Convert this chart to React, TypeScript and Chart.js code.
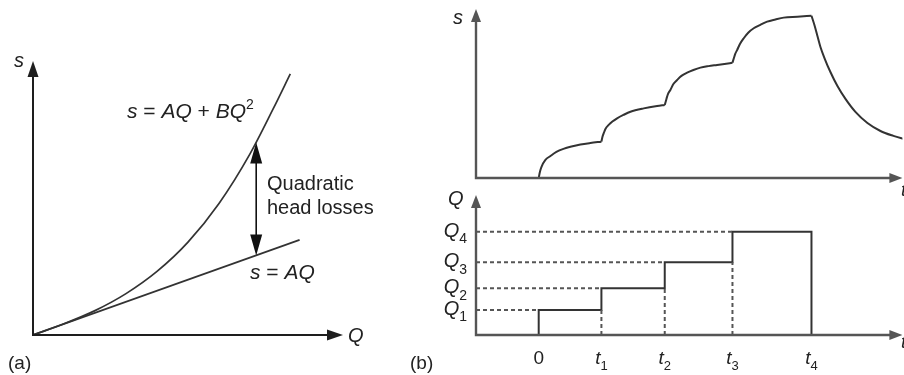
import React, { useEffect, useRef } from 'react';
import { Chart, registerables } from 'chart.js';

Chart.register(...registerables);

// ---------- Panel (a): drawdown versus pumping rate ----------
const flowQ = [0, 1, 2, 3, 4, 5, 6, 7, 7.75, 8.3];
const drawdownTotal = [0, 0.41, 0.89, 1.51, 2.32, 3.39, 4.8, 6.61, 8.26, 9.53];
const flowLinear = [0, 8.6];
const drawdownLinear = [0, 3.47];
// position of the "quadratic head losses" double arrow
const lossQ = 7.2;
const lossTop = 7.03;
const lossBottom = 2.9;

// ---------- Panel (b): step-drawdown test ----------
const stepTimes = [0, 1, 2.01, 3.09, 4.35]; // 0, t1, t2, t3, t4
const stepTimeLabels = ['0', '1', '2', '3', '4'];
const stepRates = [1.79, 3.34, 5.19, 7.38]; // Q1..Q4
const stepRateLabels = ['1', '2', '3', '4'];

const responseT = [
  0, 0.019, 0.043, 0.107, 0.187, 0.282, 0.394, 0.522, 0.665, 0.824, 1.0,
  1.016, 1.037, 1.064, 1.116, 1.175, 1.25, 1.351, 1.463, 1.675, 1.888, 2.01,
  2.037, 2.061, 2.1, 2.148, 2.207, 2.276, 2.367, 2.467, 2.579, 2.707, 2.845, 2.962, 3.09,
  3.113, 3.134, 3.164, 3.209, 3.27, 3.345, 3.429, 3.528, 3.643, 3.775, 3.907, 4.126, 4.35,
  4.397, 4.445, 4.493, 4.557, 4.652, 4.764, 4.892, 5.051, 5.242, 5.45, 5.657, 5.85,
];
const responseS = [
  0, 0.36, 0.65, 1.07, 1.3, 1.54, 1.72, 1.86, 1.98, 2.07, 2.15,
  2.43, 2.65, 2.9, 3.14, 3.34, 3.53, 3.73, 3.92, 4.12, 4.26, 4.32,
  4.68, 4.97, 5.21, 5.56, 5.8, 6.04, 6.23, 6.39, 6.53, 6.62, 6.69, 6.75, 6.82,
  7.1, 7.34, 7.57, 7.93, 8.27, 8.61, 8.86, 9.05, 9.25, 9.38, 9.49, 9.54, 9.6,
  9.05, 8.4, 7.75, 7.1, 6.27, 5.44, 4.68, 3.91, 3.25, 2.78, 2.49, 2.28,
];

const T_MIN = -1;
const T_MAX = 5.8;

const FONT = '"Liberation Sans", Arial, Helvetica, sans-serif';
const INK = '#222';

type Run = { text: string; italic?: boolean; script?: 'sub' | 'sup' };

function drawRuns(
  ctx: CanvasRenderingContext2D,
  runs: Run[],
  x: number,
  baseline: number,
  size: number,
  align: 'left' | 'center' | 'right' = 'left',
  color = INK
) {
  const fontOf = (r: Run) =>
    `${r.italic ? 'italic ' : ''}${r.script ? Math.round(size * 0.68) : size}px ${FONT}`;
  const widths = runs.map((r) => {
    ctx.font = fontOf(r);
    return ctx.measureText(r.text).width;
  });
  const total = widths.reduce((a, b) => a + b, 0);
  let cx = align === 'left' ? x : align === 'center' ? x - total / 2 : x - total;
  ctx.save();
  ctx.fillStyle = color;
  ctx.textBaseline = 'alphabetic';
  ctx.textAlign = 'left';
  runs.forEach((r, i) => {
    ctx.font = fontOf(r);
    const dy = r.script === 'sub' ? size * 0.32 : r.script === 'sup' ? -size * 0.42 : 0;
    ctx.fillText(r.text, cx, baseline + dy);
    cx += widths[i];
  });
  ctx.restore();
}

function arrowHead(
  ctx: CanvasRenderingContext2D,
  tipX: number,
  tipY: number,
  dirX: number,
  dirY: number,
  len: number,
  wid: number,
  color: string
) {
  const bx = tipX - dirX * len;
  const by = tipY - dirY * len;
  const px = -dirY;
  const py = dirX;
  ctx.save();
  ctx.fillStyle = color;
  ctx.beginPath();
  ctx.moveTo(tipX, tipY);
  ctx.lineTo(bx + (px * wid) / 2, by + (py * wid) / 2);
  ctx.lineTo(bx - (px * wid) / 2, by - (py * wid) / 2);
  ctx.closePath();
  ctx.fill();
  ctx.restore();
}

function drawAxes(chart: Chart, color: string, width: number, len: number, wid: number) {
  const { ctx, chartArea } = chart;
  const { left, right, top, bottom } = chartArea;
  ctx.save();
  ctx.strokeStyle = color;
  ctx.lineWidth = width;
  ctx.lineCap = 'butt';
  ctx.beginPath();
  ctx.moveTo(left, bottom + width / 2);
  ctx.lineTo(left, top + len - 1);
  ctx.moveTo(left - width / 2, bottom);
  ctx.lineTo(right - len + 1, bottom);
  ctx.stroke();
  ctx.restore();
  arrowHead(ctx, left, top, 0, -1, len, wid, color);
  arrowHead(ctx, right, bottom, 1, 0, len, wid, color);
}

const pts = (xs: number[], ys: number[]) => xs.map((x, i) => ({ x, y: ys[i] }));

function baseOptions(xMin: number, xMax: number, yMin: number, yMax: number, padding: any) {
  return {
    responsive: false,
    maintainAspectRatio: false,
    animation: false as const,
    events: [] as any[],
    layout: { padding },
    scales: {
      x: { type: 'linear' as const, min: xMin, max: xMax, display: false },
      y: { type: 'linear' as const, min: yMin, max: yMax, display: false },
    },
    plugins: { legend: { display: false }, tooltip: { enabled: false } },
    elements: { point: { radius: 0 } },
  };
}

const panelAPlugin = {
  id: 'panelA',
  afterDraw(chart: Chart) {
    const { ctx } = chart;
    const xs = chart.scales.x;
    const ys = chart.scales.y;
    drawAxes(chart, '#1e1e1e', 2, 16, 11);

    // double arrow between the two characteristic curves
    const ax = xs.getPixelForValue(lossQ);
    const aTop = ys.getPixelForValue(lossTop);
    const aBot = ys.getPixelForValue(lossBottom);
    ctx.save();
    ctx.strokeStyle = '#111';
    ctx.lineWidth = 1.6;
    ctx.beginPath();
    ctx.moveTo(ax, aTop + 15);
    ctx.lineTo(ax, aBot - 15);
    ctx.stroke();
    ctx.restore();
    arrowHead(ctx, ax, aTop, 0, -1, 21, 12, '#111');
    arrowHead(ctx, ax, aBot, 0, 1, 21, 12, '#111');

    drawRuns(ctx, [{ text: 's', italic: true }], 14, 67, 20);
    drawRuns(ctx, [{ text: 'Q', italic: true }], 348, 342, 20);
    drawRuns(
      ctx,
      [
        { text: 's', italic: true },
        { text: ' = ' },
        { text: 'AQ', italic: true },
        { text: ' + ' },
        { text: 'BQ', italic: true },
        { text: '2', script: 'sup' },
      ],
      127,
      118,
      21
    );
    drawRuns(ctx, [{ text: 'Quadratic' }], 267, 190, 20);
    drawRuns(ctx, [{ text: 'head losses' }], 267, 214, 20);
    drawRuns(
      ctx,
      [{ text: 's', italic: true }, { text: ' = ' }, { text: 'AQ', italic: true }],
      250,
      279,
      21
    );
    drawRuns(ctx, [{ text: '(a)' }], 8, 369, 19);
  },
};

const panelBTopPlugin = {
  id: 'panelBTop',
  afterDraw(chart: Chart) {
    const { ctx } = chart;
    drawAxes(chart, '#555', 2.4, 13, 10);
    drawRuns(ctx, [{ text: 's', italic: true }], 453, 24, 20);
    drawRuns(ctx, [{ text: 't', italic: true }], 901, 196, 19);
  },
};

const panelBBottomPlugin = {
  id: 'panelBBottom',
  afterDraw(chart: Chart) {
    const { ctx } = chart;
    const xs = chart.scales.x;
    const ys = chart.scales.y;
    drawAxes(chart, '#555', 2.4, 13, 10);
    drawRuns(ctx, [{ text: 'Q', italic: true }], 448, 205, 20);
    stepRates.forEach((q, i) => {
      const y = ys.getPixelForValue(q);
      drawRuns(
        ctx,
        [{ text: 'Q', italic: true }, { text: stepRateLabels[i], script: 'sub' }],
        467,
        y + 5,
        20,
        'right'
      );
    });
    stepTimes.forEach((t, i) => {
      const x = xs.getPixelForValue(t);
      const runs: Run[] =
        i === 0
          ? [{ text: stepTimeLabels[i] }]
          : [{ text: 't', italic: true }, { text: stepTimeLabels[i], script: 'sub' }];
      drawRuns(ctx, runs, x, 364, 19, 'center');
    });
    drawRuns(ctx, [{ text: 't', italic: true }], 901, 348, 19);
    drawRuns(ctx, [{ text: '(b)' }], 410, 369, 19);
  },
};

export default function App() {
  const aRef = useRef<HTMLCanvasElement>(null);
  const bTopRef = useRef<HTMLCanvasElement>(null);
  const bBotRef = useRef<HTMLCanvasElement>(null);

  useEffect(() => {
    const charts: Chart[] = [];

    // (a) s = AQ + BQ^2 and s = AQ
    charts.push(
      new Chart(aRef.current!, {
        type: 'line',
        data: {
          datasets: [
            {
              data: pts(flowQ, drawdownTotal),
              borderColor: '#333',
              borderWidth: 1.7,
              pointRadius: 0,
              cubicInterpolationMode: 'monotone',
              fill: false,
            },
            {
              data: pts(flowLinear, drawdownLinear),
              borderColor: '#333',
              borderWidth: 1.7,
              pointRadius: 0,
              fill: false,
            },
          ],
        },
        options: baseOptions(0, 10, 0, 10, { left: 33, top: 61, right: 561, bottom: 40 }) as any,
        plugins: [panelAPlugin],
      })
    );

    // (b) top: drawdown response, one smooth piece per pumping step so the
    // corners at t1..t4 stay sharp
    const response = pts(responseT, responseS);
    const bounds = [...stepTimes, Infinity];
    const responsePieces = bounds.slice(0, -1).map((t0, i) => ({
      data: response.filter((p) => p.x >= t0 && p.x <= bounds[i + 1]),
      borderColor: '#333',
      borderWidth: 2,
      pointRadius: 0,
      cubicInterpolationMode: 'monotone' as const,
      fill: false,
    }));
    charts.push(
      new Chart(bTopRef.current!, {
        type: 'line',
        data: { datasets: responsePieces as any },
        options: baseOptions(T_MIN, T_MAX, 0, 10, { left: 476, top: 9, right: 1.6, bottom: 197 }) as any,
        plugins: [panelBTopPlugin],
      })
    );

    // (b) bottom: stepped pumping rates
    const stepLine: { x: number; y: number }[] = [{ x: stepTimes[0], y: 0 }];
    stepRates.forEach((q, i) => {
      stepLine.push({ x: stepTimes[i], y: q }, { x: stepTimes[i + 1], y: q });
    });
    stepLine.push({ x: stepTimes[stepTimes.length - 1], y: 0 });

    const guideStyle = {
      borderColor: '#555',
      borderWidth: 2,
      borderDash: [4, 3],
      pointRadius: 0,
      fill: false,
    };
    const levelGuides = stepRates.map((q, i) => ({
      ...guideStyle,
      data: [
        { x: T_MIN, y: q },
        { x: stepTimes[i], y: q },
      ],
    }));
    const timeGuides = stepRates.slice(0, 3).map((q, i) => ({
      ...guideStyle,
      data: [
        { x: stepTimes[i + 1], y: 0 },
        { x: stepTimes[i + 1], y: q },
      ],
    }));

    charts.push(
      new Chart(bBotRef.current!, {
        type: 'line',
        data: {
          datasets: [
            ...levelGuides,
            ...timeGuides,
            {
              data: stepLine,
              borderColor: '#333',
              borderWidth: 2,
              pointRadius: 0,
              fill: false,
            },
          ] as any,
        },
        options: baseOptions(T_MIN, T_MAX, 0, 10, { left: 476, top: 195, right: 1.6, bottom: 40 }) as any,
        plugins: [panelBBottomPlugin],
      })
    );

    return () => charts.forEach((c) => c.destroy());
  }, []);

  const canvasStyle: React.CSSProperties = { position: 'absolute', left: 0, top: 0 };
  return (
    <div
      style={{
        position: 'fixed',
        left: 0,
        top: 0,
        width: 904,
        height: 375,
        background: '#fff',
        overflow: 'hidden',
      }}
    >
      <canvas ref={aRef} width={904} height={375} style={canvasStyle} />
      <canvas ref={bTopRef} width={904} height={375} style={canvasStyle} />
      <canvas ref={bBotRef} width={904} height={375} style={canvasStyle} />
    </div>
  );
}
